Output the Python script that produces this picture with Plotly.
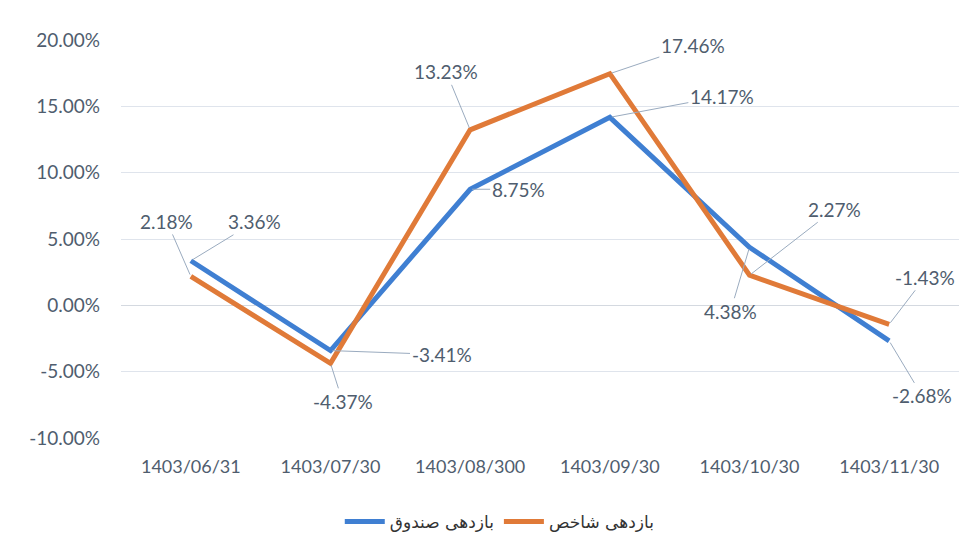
import plotly.graph_objects as go

categories = ["1403/06/31", "1403/07/30", "1403/08/300", "1403/09/30", "1403/10/30", "1403/11/30"]
fund_returns = [3.36, -3.41, 8.75, 14.17, 4.38, -2.68]     # بازدهی صندوق
index_returns = [2.18, -4.37, 13.23, 17.46, 2.27, -1.43]   # بازدهی شاخص
y_ticks = [-10, -5, 0, 5, 10, 15, 20]

fund_name = "بازدهی صندوق"
index_name = "بازدهی شاخص"

BLUE = "#3f7fd2"
ORANGE = "#e07a38"
TEXT = "#4f5d6e"
FONT = "Lato, Open Sans, sans-serif"

fig = go.Figure()
fig.add_trace(go.Scatter(x=categories, y=fund_returns, mode="lines", name=fund_name,
                         line=dict(color=BLUE, width=5)))
fig.add_trace(go.Scatter(x=categories, y=index_returns, mode="lines", name=index_name,
                         line=dict(color=ORANGE, width=5)))

# label offsets (pixels) for leader-line labels
fund_offsets = [(64, -39), (111, 4), (48, 0), (112, -21), (-19, 64), (33, 55)]
index_offsets = [(-24, -55), (12, 38), (-24, -58), (83, -28), (85, -66), (36, -47)]

for series, offs in ((fund_returns, fund_offsets), (index_returns, index_offsets)):
    for cat, v, (ax, ay) in zip(categories, series, offs):
        fig.add_annotation(x=cat, y=v, xref="x", yref="y", text=f"{v:.2f}%",
                           showarrow=True, arrowhead=0, arrowwidth=1,
                           arrowcolor="#9aabbf", ax=ax, ay=ay, standoff=2,
                           font=dict(family=FONT, size=19, color=TEXT))

fig.update_layout(
    width=974, height=551,
    paper_bgcolor="white", plot_bgcolor="white",
    margin=dict(l=113, r=23, t=32, b=121),
    showlegend=True,
    legend=dict(orientation="h", x=0.452, xanchor="center", y=-0.211, yanchor="middle",
                font=dict(family="DejaVu Sans, sans-serif", size=17, color="#333"),
                itemwidth=40),
    font=dict(family=FONT, color=TEXT),
)
fig.update_yaxes(range=[-10, 20], tickvals=y_ticks,
                 ticktext=[f"{t:.2f}%" for t in y_ticks],
                 showgrid=True, gridcolor="#dfe4ec", gridwidth=1,
                 zeroline=True, zerolinecolor="#d4d9e0", zerolinewidth=1,
                 showline=False, ticks="", ticklabelstandoff=20,
                 tickfont=dict(family=FONT, size=19, color=TEXT))
fig.update_xaxes(range=[-0.5, 5.5], showgrid=False, showline=False, ticks="",
                 ticklabelstandoff=16,
                 tickfont=dict(family=FONT, size=18, color=TEXT))

fig.write_html("out.html")
